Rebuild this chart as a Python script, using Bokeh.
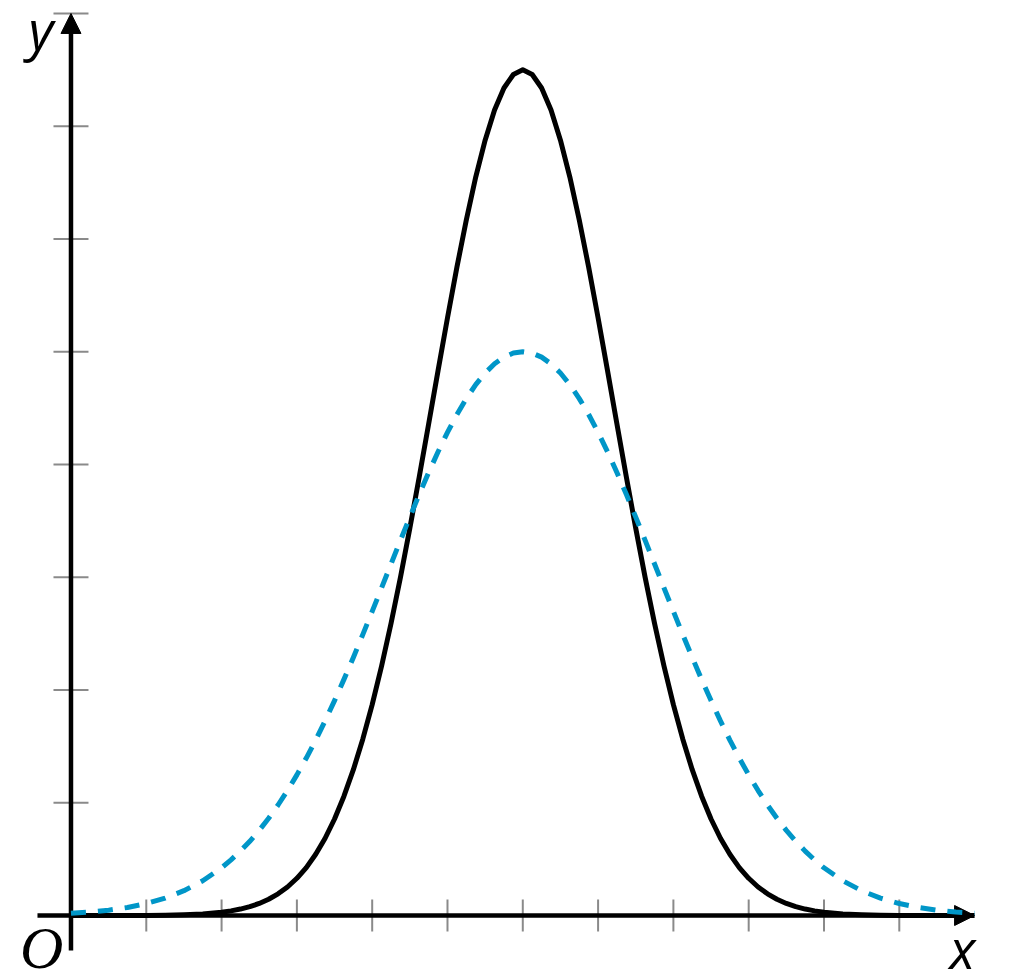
from math import pi

from bokeh.plotting import figure
from bokeh.models import Arrow, NormalHead, Label, Range1d
from bokeh.embed import file_html
from bokeh.resources import INLINE

x = [0, 0.25, 0.5, 0.75, 1, 1.25, 1.5, 1.75, 2,
     2.125, 2.25, 2.375, 2.5, 2.625, 2.75, 2.875, 3, 3.125, 3.25, 3.375, 3.5, 3.625, 3.75, 3.875, 4,
     4.125, 4.25, 4.375, 4.5, 4.625, 4.75, 4.875, 5, 5.125, 5.25, 5.375, 5.5, 5.625, 5.75, 5.875,
     6,
     6.125, 6.25, 6.375, 6.5, 6.625, 6.75, 6.875, 7, 7.125, 7.25, 7.375, 7.5, 7.625, 7.75, 7.875,
     8, 8.125, 8.25, 8.375, 8.5, 8.625, 8.75, 8.875, 9, 9.125, 9.25, 9.375, 9.5, 9.625, 9.75, 9.875,
     10, 10.25, 10.5, 10.75, 11, 11.25, 11.5, 11.75, 12]

# solid black curve (narrow, tall)
narrow = [0.000, 0.000, 0.000, 0.000, 0.001, 0.003, 0.007, 0.014, 0.029,
          0.041, 0.057, 0.078, 0.107, 0.144, 0.192, 0.253, 0.330, 0.425, 0.543, 0.685, 0.856,
          1.058, 1.293, 1.564, 1.870,
          2.213, 2.590, 2.998, 3.434, 3.890, 4.360, 4.833, 5.300, 5.749, 6.169, 6.549, 6.876,
          7.143, 7.339, 7.459,
          7.500,
          7.459, 7.339, 7.143, 6.876, 6.549, 6.169, 5.749, 5.300, 4.833, 4.360, 3.890, 3.434,
          2.998, 2.590, 2.213,
          1.870, 1.564, 1.293, 1.058, 0.856, 0.685, 0.543, 0.425, 0.330, 0.253, 0.192, 0.144,
          0.107, 0.078, 0.057, 0.041,
          0.029, 0.014, 0.007, 0.003, 0.001, 0.000, 0.000, 0.000, 0.000]

# dashed blue curve (wide, low)
wide = [0.019, 0.030, 0.047, 0.071, 0.106, 0.154, 0.220, 0.308, 0.423,
        0.493, 0.571, 0.658, 0.755, 0.862, 0.980, 1.108, 1.247, 1.396, 1.556, 1.726, 1.906,
        2.094, 2.289, 2.491, 2.697,
        2.906, 3.117, 3.327, 3.533, 3.735, 3.929, 4.113, 4.285, 4.443, 4.584, 4.708, 4.811,
        4.893, 4.952, 4.988,
        5.000,
        4.988, 4.952, 4.893, 4.811, 4.708, 4.584, 4.443, 4.285, 4.113, 3.929, 3.735, 3.533,
        3.327, 3.117, 2.906,
        2.697, 2.491, 2.289, 2.094, 1.906, 1.726, 1.556, 1.396, 1.247, 1.108, 0.980, 0.862,
        0.755, 0.658, 0.571, 0.493,
        0.423, 0.308, 0.220, 0.154, 0.106, 0.071, 0.047, 0.030, 0.019]

x_ticks = [1, 2, 3, 4, 5, 6, 7, 8, 9, 10, 11]
y_ticks = [1, 2, 3, 4, 5, 6, 7, 8]

p = figure(width=1007, height=969,
           x_range=Range1d(-0.936, 12.437), y_range=Range1d(-0.479, 8.115),
           output_backend="svg", toolbar_location=None, min_border=0)
p.axis.visible = False
p.grid.visible = False
p.outline_line_color = None
p.background_fill_color = "white"

tick_col = "#8a8a8a"
p.scatter(x_ticks, [0] * len(x_ticks), marker="dash", angle=pi / 2, size=32,
          line_color=tick_col, line_width=2, level="underlay")
p.scatter([0] * len(y_ticks), y_ticks, marker="dash", size=35,
          line_color=tick_col, line_width=2, level="underlay")

# axes with arrow heads
def head():
    return NormalHead(size=20, fill_color="black", line_color="black", line_width=1)

p.add_layout(Arrow(end=head(), x_start=-0.445, y_start=0, x_end=12, y_end=0,
                   line_width=4.5, line_color="black", level="underlay"))
p.add_layout(Arrow(end=head(), x_start=0, y_start=-0.31, x_end=0, y_end=8,
                   line_width=4.5, line_color="black", level="underlay"))

p.line(x, narrow, line_color="black", line_width=5, line_join="round")
p.line(x, wide, line_color="#0096c8", line_width=5, line_dash="15 12", line_join="round")

p.add_layout(Label(x=-0.40, y=7.86, text="y", text_font="Open Sans", text_font_style="italic",
                   text_color="black", text_font_size="54px",
                   text_align="center", text_baseline="alphabetic"))
p.add_layout(Label(x=11.84, y=-0.285, text="x", text_font="Open Sans", text_font_style="italic",
                   text_color="black", text_font_size="54px",
                   text_align="center", text_baseline="alphabetic"))
p.add_layout(Label(x=-0.39, y=-0.29, text="O", text_font="Liberation Serif",
                   text_font_style="italic", text_color="black", text_font_size="60px",
                   text_align="center", text_baseline="alphabetic"))

open("out.html", "w").write(file_html(p, INLINE))
